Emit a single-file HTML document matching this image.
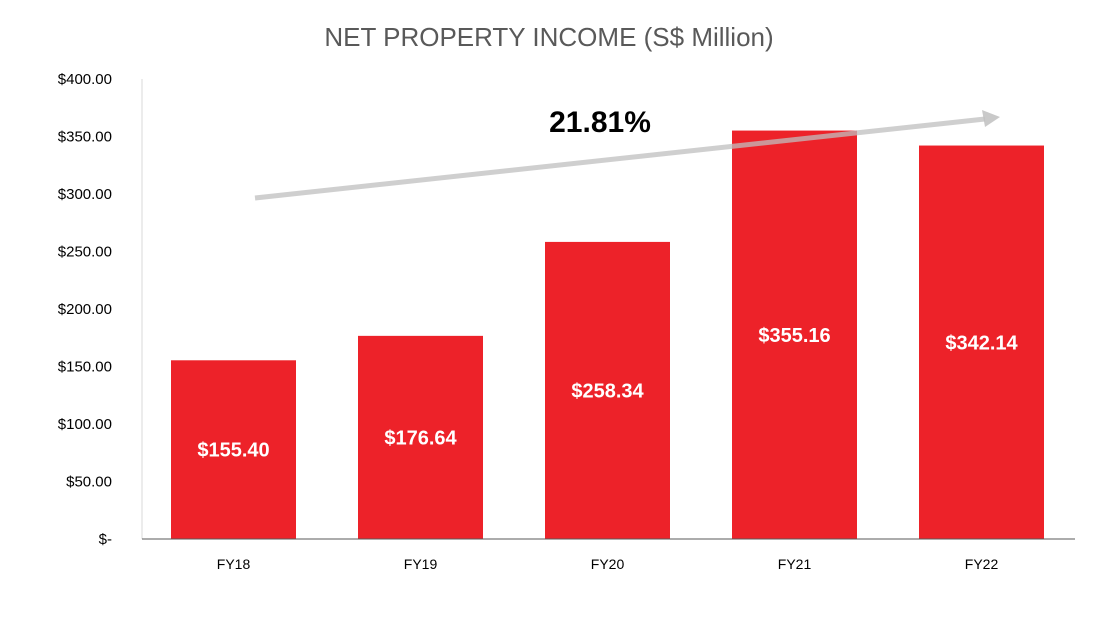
<!DOCTYPE html>
<html><head><meta charset="utf-8"><style>
body{margin:0;background:#fff;}
svg text{font-family:"Liberation Sans",sans-serif;}
</style></head><body>
<svg id="chart" width="1098" height="628" xmlns="http://www.w3.org/2000/svg">
<text x="549" y="46" text-anchor="middle" font-size="26" fill="#595959">NET PROPERTY INCOME (S$ Million)</text>
<g id="yaxis"></g>
<g id="bars"></g>
<g id="xaxis"></g>
<line x1="255" y1="198" x2="985" y2="119" stroke="#bfbfbf" stroke-opacity="0.75" stroke-width="5"/>
<polygon points="1000,117 982,110 985,127" fill="#bfbfbf" fill-opacity="0.85"/>
<text x="600" y="132" text-anchor="middle" font-size="30" font-weight="bold" fill="#000">21.81%</text>
</svg>
<script>
const categories=["FY18","FY19","FY20","FY21","FY22"];
const values=[155.40,176.64,258.34,355.16,342.14];
const valueLabels=["$155.40","$176.64","$258.34","$355.16","$342.14"];
const yTicks=[0,50,100,150,200,250,300,350,400];
const yTickLabels=["$-","$50.00","$100.00","$150.00","$200.00","$250.00","$300.00","$350.00","$400.00"];
const NS="http://www.w3.org/2000/svg";
const x0=140,x1=1075,y0=539,y1=79,yMax=400;
const y=v=>y0-(v/yMax)*(y0-y1);
const bw=(x1-x0)/categories.length;
const xc=i=>x0+bw*(i+0.5);
function mk(tag,attrs,parent){const e=document.createElementNS(NS,tag);for(const k in attrs)e.setAttribute(k,attrs[k]);parent.appendChild(e);return e;}
const ya=document.getElementById('yaxis'),ba=document.getElementById('bars'),xa=document.getElementById('xaxis');
yTicks.forEach((t,i)=>{const tx=mk('text',{x:112,y:y(t)+5,'text-anchor':'end','font-size':15,fill:'#000'},ya);tx.textContent=yTickLabels[i];

});
const al=mk('line',{x1:142,y1:y1,x2:142,y2:y0,stroke:'#d9d9d9','stroke-width':1},ya);


values.forEach((v,i)=>{const r=mk('rect',{x:xc(i)-62.5,y:y(v),width:125,height:y0-y(v),fill:'#ed2229'},ba);


const t=mk('text',{x:xc(i),y:(y(v)+y0)/2+7,'text-anchor':'middle','font-size':20,'font-weight':'bold',fill:'#fff'},ba);t.textContent=valueLabels[i];


const c=mk('text',{x:xc(i),y:569,'text-anchor':'middle','font-size':14,fill:'#000'},xa);c.textContent=categories[i];

});
const bl=mk('line',{x1:142,y1:y0,x2:x1,y2:y0,stroke:'#595959','stroke-width':1},xa);


</script>
</body></html>
